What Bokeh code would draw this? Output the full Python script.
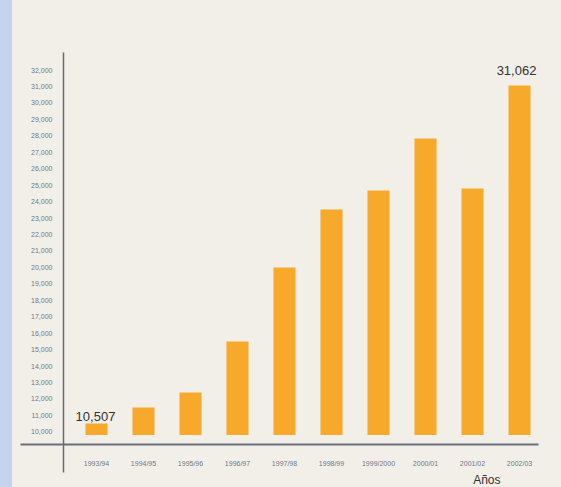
from bokeh.plotting import figure
from bokeh.models import Range1d, FixedTicker, Title, ColumnDataSource
from bokeh.core.properties import value
from bokeh.embed import file_html
from bokeh.resources import INLINE

# ---- data ----
years = ["1993/94", "1994/95", "1995/96", "1996/97", "1997/98",
         "1998/99", "1999/2000", "2000/01", "2001/02", "2002/03"]
students = [10507, 11480, 12390, 15490, 19990, 23520, 24680, 27840, 24800, 31062]
bar_base = 9800
y_ticks = list(range(10000, 33000, 1000))
label_idx = [0, 9]
label_text = ["10,507", "31,062"]
axis_title = "Años"

# ---- styles ----
BG = "#f2efe8"
BLUE = "#c6d3ee"
ORANGE = "#f7a92b"
TICK_COLOR = "#6f7788"

xs = list(range(len(years)))

p = figure(width=561, height=487, output_backend="svg", toolbar_location=None,
           x_range=Range1d(-0.702, 9.404), y_range=Range1d(9228, 33066),
           min_border_left=63, min_border_right=23, min_border_top=52, min_border_bottom=43)
p.background_fill_alpha = 0
p.border_fill_alpha = 0
p.outline_line_color = None
p.grid.visible = False

src = ColumnDataSource(dict(x=xs, top=students, year=years))
p.vbar(x="x", top="top", bottom=bar_base, width=0.47, source=src,
       fill_color=ORANGE, line_color=None)

# data labels
lsrc = ColumnDataSource(dict(x=[xs[i] for i in label_idx],
                             y=[students[i] for i in label_idx],
                             t=label_text,
                             xo=[-1, -3], yo=[-2, -10]))
p.text(x="x", y="y", text="t", source=lsrc, x_offset="xo", y_offset="yo",
       text_align="center", text_baseline="bottom",
       text_font=value("Liberation Sans"), text_font_size="13px", text_color="#333333")

# y axis
ya = p.yaxis[0]
ya.ticker = FixedTicker(ticks=y_ticks, minor_ticks=[9236])
ya.major_label_overrides = {t: f"{t:,}" for t in y_ticks}
ya.major_tick_line_color = None
ya.major_tick_out = 0
ya.major_tick_in = 0
ya.minor_tick_in = 0
ya.minor_tick_out = 43
ya.minor_tick_line_color = "#6a6f7c"
ya.minor_tick_line_width = 2
ya.axis_line_color = "#666a72"
ya.axis_line_width = 1.5
ya.major_label_standoff = -32
ya.major_label_text_font = "Liberation Sans"
ya.major_label_text_font_size = "7px"
ya.major_label_text_color = TICK_COLOR

# x axis
xa = p.xaxis[0]
xa.ticker = FixedTicker(ticks=xs, minor_ticks=[-0.695])
xa.major_label_overrides = {i: y for i, y in zip(xs, years)}
xa.major_tick_line_color = None
xa.major_tick_out = 0
xa.major_tick_in = 0
xa.minor_tick_in = 0
xa.minor_tick_out = 28
xa.minor_tick_line_color = "#666a72"
xa.minor_tick_line_width = 1.5
xa.axis_line_color = "#6a6f7c"
xa.axis_line_width = 2
xa.major_label_standoff = -13
xa.major_label_text_font = "Liberation Sans"
xa.major_label_text_font_size = "7px"
xa.major_label_text_color = TICK_COLOR

p.add_layout(Title(text=axis_title, align="right", offset=38, standoff=2,
                   text_font="Liberation Sans", text_font_size="12px",
                   text_font_style="normal", text_color="#333333"), "below")

html = file_html(p, INLINE)
html = html.replace("</head>",
    "<style>html,body{overflow:hidden;background:linear-gradient(to right,"
    + BLUE + " 0px," + BLUE + " 12px," + BG + " 12px," + BG + " 100%);}</style></head>", 1)
open("out.html", "w").write(html)
